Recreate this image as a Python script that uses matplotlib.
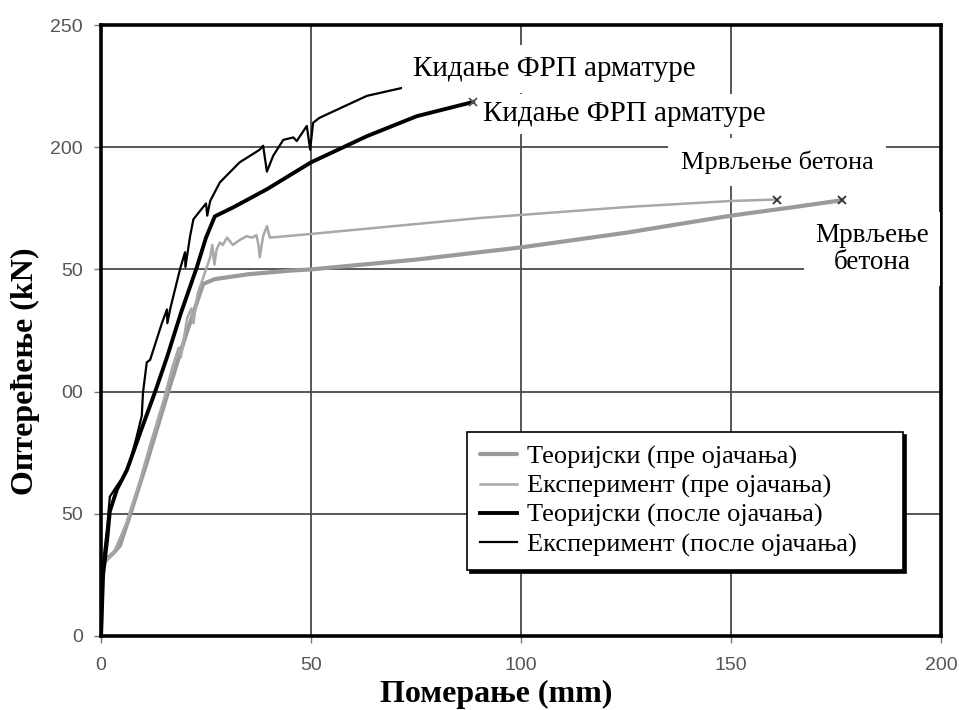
import matplotlib
matplotlib.use("Agg")
import matplotlib.pyplot as plt

# Load-deflection data (displacement in mm, load in kN)
theor_before_x = [0, 0.3, 1, 3, 4.5, 7, 10.9, 16, 20, 24.3, 27, 35, 45, 50, 75, 100, 125, 150, 165, 176.4]
theor_before_y = [0, 28, 31, 34, 37, 50, 71, 100, 122, 144, 146, 148, 149.5, 150, 154, 159, 165, 172, 175.5, 178.3]

exp_before_x = [0, 0.5, 3, 6, 9, 12, 15, 17, 18.5, 19, 20.5, 21.5, 22, 23, 24, 25, 26, 26.5, 27,
                27.5, 28.3, 29, 30, 31.4, 33, 34.7, 36, 37, 37.5, 37.8, 38.6, 39.5, 40.2,
                50, 90, 125, 150, 161]
exp_before_y = [0, 29, 34, 46, 62, 80, 97, 110, 118, 114, 130, 134, 128, 140, 145, 150, 155, 160, 152,
                158, 161, 160, 163, 160, 162, 163.6, 163, 164, 160, 155, 163.6, 167.7, 163,
                164.5, 171, 175.5, 178, 178.6]

theor_after_x = [0, 0.5, 1.5, 2.1, 3.8, 6.2, 9.3, 12.9, 15.7, 19, 22.8, 25, 27.1, 31.5, 39.5, 50, 63.3, 75.2, 88.6]
theor_after_y = [0, 25, 40, 51, 60, 68, 83, 100, 114, 132, 150.8, 163, 171.7, 175.4, 182.8, 193.8, 204.5, 212.7, 218.5]

exp_after_x = [0, 0.5, 1.5, 2.1, 4, 5.3, 7, 8.5, 9.7, 10, 10.9, 11.7, 14.5, 15.7, 15.8, 16.5, 18.8, 20,
               20.1, 21.2, 22, 25, 25.3, 26, 28.3, 33, 35.5, 37.8, 38.6, 39.5, 41, 43.4, 45.8, 46.6,
               49, 49.8, 50.5, 52, 63.3, 73.6]
exp_after_y = [0, 30, 45, 57, 62, 65, 72, 81.6, 90, 99.6, 112, 113, 128, 133.6, 128, 134, 150, 157,
               151, 163.5, 170.5, 177, 172, 178, 185.6, 193.8, 196.5, 199, 200.6, 190, 196.5, 203, 204, 202.5,
               208.7, 199, 210, 212, 221, 225]

x_ticks = [0, 50, 100, 150, 200]
x_tick_labels = ["0", "50", "100", "150", "200"]
y_ticks = [0, 50, 100, 150, 200, 250]
y_tick_labels = ["0", "50", "00", "50", "200", "250"]

series_labels = ["Теоријски (пре ојачања)", "Експеримент (пре ојачања)",
                 "Теоријски (после ојачања)", "Експеримент (после ојачања)"]

SERIF = ["Liberation Serif", "DejaVu Serif"]
SANS = ["Liberation Sans", "DejaVu Sans"]

fig = plt.figure(figsize=(9.59, 7.10), dpi=100)
ax = fig.add_axes([101 / 959, 1 - 636 / 710, 840 / 959, 611 / 710])

ax.set_xlim(0, 200)
ax.set_ylim(0, 250)

# grid
ax.set_axisbelow(True)
ax.grid(True, color="#4a4a4a", linewidth=1.3)

l1, = ax.plot(theor_before_x, theor_before_y, color="#9a9a9a", lw=3.0, solid_capstyle="round", zorder=2.1)
l2, = ax.plot(exp_before_x, exp_before_y, color="#a8a8a8", lw=1.8, zorder=2.2)
l3, = ax.plot(theor_after_x, theor_after_y, color="#000000", lw=2.8, zorder=2.3)
l4, = ax.plot(exp_after_x, exp_after_y, color="#000000", lw=1.6, zorder=2.4)

# failure markers at the curve ends
ax.plot(theor_before_x[-1], theor_before_y[-1], marker="x", color="#333333", ms=6, mew=1.3, zorder=3.5)
ax.plot(exp_before_x[-1], exp_before_y[-1], marker="x", color="#333333", ms=6, mew=1.3, zorder=3.5)
ax.plot(theor_after_x[-1], theor_after_y[-1], marker="x", color="#555555", ms=6, mew=1.3, zorder=3.5)

for s in ax.spines.values():
    s.set_color("black")
    s.set_linewidth(2.6)

ax.set_xticks(x_ticks)
ax.set_xticklabels(x_tick_labels)
ax.set_yticks(y_ticks)
ax.set_yticklabels(y_tick_labels)
ax.tick_params(axis="both", direction="out", length=5, width=1, color="#777777",
               labelcolor="#555555", labelsize=14)
ax.tick_params(axis="x", pad=10)
ax.tick_params(axis="y", pad=8)
for t in ax.get_xticklabels() + ax.get_yticklabels():
    t.set_fontfamily(SANS)

# annotations with white boxes
ax.text(74.3, 232, "Кидање ФРП арматуре", fontsize=21, family=SERIF, va="center", ha="left",
        bbox=dict(facecolor="white", edgecolor="none", pad=8), zorder=3)
ax.text(91, 213.5, "Кидање ФРП арматуре", fontsize=21, family=SERIF, va="center", ha="left",
        bbox=dict(facecolor="white", edgecolor="none", pad=5), zorder=3)
ax.text(138, 194, "Мрвљење бетона", fontsize=19, family=SERIF, va="center", ha="left",
        bbox=dict(facecolor="white", edgecolor="none", pad=9), zorder=3.1)
ax.text(183.6, 158.5, "Мрвљење\nбетона", fontsize=19.5, family=SERIF, va="center", ha="center",
        linespacing=1.1, bbox=dict(facecolor="white", edgecolor="none", pad=8), zorder=3.2)

leg = ax.legend([l1, l2, l3, l4], series_labels, loc="upper left",
                bbox_to_anchor=(0.436, 0.108, 0.519, 0.226), mode="expand",
                borderaxespad=0, prop={"family": SERIF, "size": 19}, frameon=True, fancybox=False,
                edgecolor="black", framealpha=1, handlelength=1.4, handletextpad=0.38,
                labelspacing=0.2, borderpad=0.5,
                shadow={"color": "black", "alpha": 1})
leg.get_frame().set_linewidth(1.2)
leg.set_zorder(4)

fig.text(496 / 959, 1 - 694 / 710, "Померање (mm)", fontsize=23, fontweight="bold", family=SERIF,
         ha="center", va="center")
fig.text(25 / 959, 1 - 371 / 710, "Оптерећење (kN)", fontsize=23, fontweight="bold", family=SERIF,
         ha="center", va="center", rotation=90)

fig.savefig("out.png", dpi=100)
